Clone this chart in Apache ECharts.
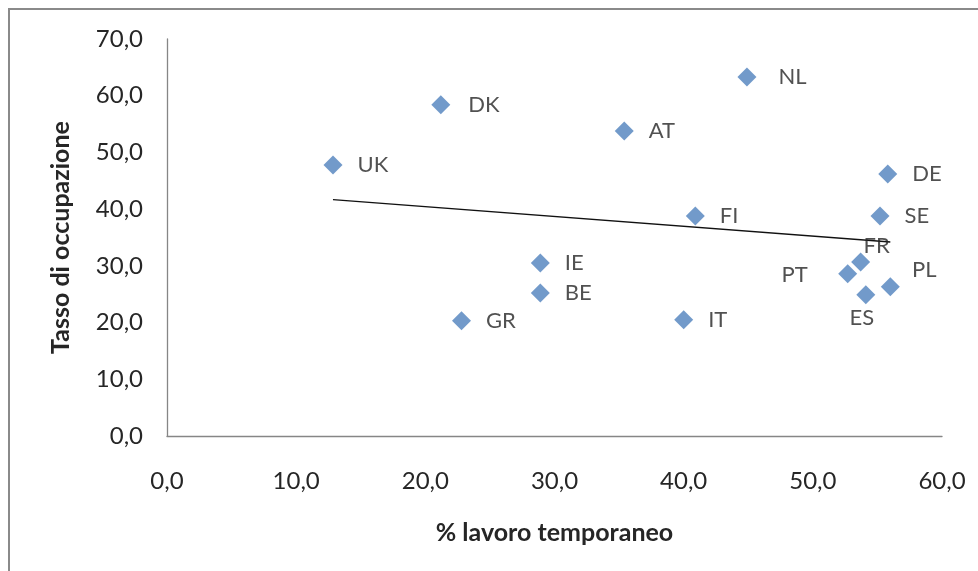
<!DOCTYPE html>
<html>
<head>
<meta charset="utf-8">
<script src="https://cdn.jsdelivr.net/npm/echarts@6/dist/echarts.min.js"></script>
<style>
  html, body { margin: 0; padding: 0; background: #fff; }
  #chart { width: 978px; height: 571px; }
</style>
</head>
<body>
<div id="chart"></div>
<script>
// Country codes and their values: % temporary work (x) vs employment rate (y)
const countries = ['UK', 'DK', 'AT', 'NL', 'DE', 'SE', 'FI', 'FR', 'PT', 'PL', 'ES', 'IE', 'BE', 'GR', 'IT'];
const lavoroTemporaneo = [12.85, 21.2, 35.4, 44.9, 55.8, 55.2, 40.9, 53.7, 52.7, 56.0, 54.1, 28.9, 28.9, 22.8, 40.0];
const tassoOccupazione = [47.8, 58.4, 53.8, 63.3, 46.2, 38.8, 38.8, 30.7, 28.6, 26.3, 24.9, 30.5, 25.2, 20.3, 20.5];
const xTicks = [0, 10, 20, 30, 40, 50, 60];
const yTicks = [0, 10, 20, 30, 40, 50, 60, 70];

const FONT = 'Lato';
const TEXT = '#262626';

// Labels that do not sit to the right of their marker
const labelOverrides = {
  FR: { position: 'inside', offset: [16, -16] },
  PT: { position: 'inside', offset: [-53, 1] },
  PL: { position: 'inside', offset: [34, -17] },
  ES: { position: 'inside', offset: [-4, 23] },
  NL: { distance: 22 },
  DK: { distance: 18 }
};

const points = countries.map((c, i) => {
  const item = { name: c, value: [lavoroTemporaneo[i], tassoOccupazione[i]] };
  if (labelOverrides[c]) item.label = labelOverrides[c];
  return item;
});

// Least-squares linear trend over the scatter points
function linearTrend(xs, ys) {
  const n = xs.length;
  const mx = xs.reduce((a, b) => a + b, 0) / n;
  const my = ys.reduce((a, b) => a + b, 0) / n;
  let sxy = 0, sxx = 0;
  for (let i = 0; i < n; i++) {
    sxy += (xs[i] - mx) * (ys[i] - my);
    sxx += (xs[i] - mx) * (xs[i] - mx);
  }
  const slope = sxy / sxx;
  const icpt = my - slope * mx;
  const x0 = Math.min(...xs), x1 = Math.max(...xs);
  return [[x0, icpt + slope * x0], [x1, icpt + slope * x1]];
}
const trend = linearTrend(lavoroTemporaneo, tassoOccupazione);

const fmt = v => v.toFixed(1).replace('.', ',');

const chart = echarts.init(document.getElementById('chart'), null, { renderer: 'canvas' });
chart.setOption({
  animation: false,
  backgroundColor: '#fff',
  textStyle: { fontFamily: FONT },
  graphic: [{
    type: 'rect',
    shape: { x: 9, y: 9, width: 1100, height: 700 },
    style: { fill: 'none', stroke: '#8a8a8a', lineWidth: 2 },
    silent: true,
    z: -1
  }],
  grid: { left: 167, top: 39, right: 36, bottom: 135, containLabel: false },
  xAxis: {
    type: 'value',
    min: xTicks[0],
    max: xTicks[xTicks.length - 1],
    interval: xTicks[1] - xTicks[0],
    name: '% lavoro temporaneo',
    nameLocation: 'middle',
    nameGap: 84,
    nameTextStyle: { fontFamily: FONT, fontSize: 25, fontWeight: 'bold', color: TEXT },
    axisLine: { show: true, lineStyle: { color: '#868686', width: 1.3 } },
    axisTick: { show: false },
    splitLine: { show: false },
    axisLabel: { formatter: fmt, margin: 33, fontFamily: FONT, fontSize: 24, color: TEXT }
  },
  yAxis: {
    type: 'value',
    min: yTicks[0],
    max: yTicks[yTicks.length - 1],
    interval: yTicks[1] - yTicks[0],
    name: 'Tasso di occupazione',
    nameLocation: 'middle',
    nameRotate: 90,
    nameGap: 94,
    nameTextStyle: { fontFamily: FONT, fontSize: 25, fontWeight: 'bold', color: TEXT },
    axisLine: { show: true, lineStyle: { color: '#868686', width: 1.3 } },
    axisTick: { show: false },
    splitLine: { show: false },
    axisLabel: { formatter: fmt, margin: 24, fontFamily: FONT, fontSize: 24, color: TEXT }
  },
  series: [
    {
      type: 'line',
      data: trend,
      showSymbol: false,
      symbol: 'none',
      silent: true,
      lineStyle: { color: '#111', width: 1.3 },
      z: 1
    },
    {
      type: 'scatter',
      data: points,
      symbol: 'diamond',
      symbolSize: 19,
      itemStyle: { color: '#4F81BD' },
      label: {
        show: true,
        formatter: p => p.name,
        position: 'right',
        distance: 15,
        fontFamily: FONT,
        fontSize: 22,
        color: TEXT
      },
      z: 2
    }
  ]
});
</script>
</body>
</html>
